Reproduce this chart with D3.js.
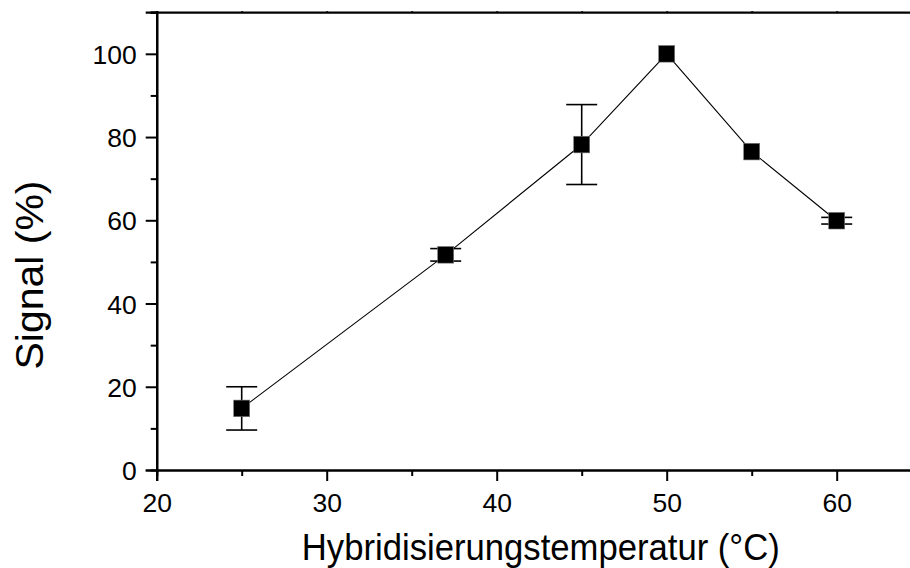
<!DOCTYPE html>
<html>
<head>
<meta charset="utf-8">
<script src="https://cdn.jsdelivr.net/npm/d3@7/dist/d3.min.js"></script>
<style>
  html, body { margin: 0; padding: 0; background: #fff; }
  svg { display: block; }
  text { font-family: "Liberation Sans", Arial, sans-serif; fill: #000; }
</style>
</head>
<body>
<svg id="chart" width="910" height="568"></svg>
<script>
// Hybridization temperature (°C) vs. relative signal (%)
const temperatures = [25, 37, 45, 50, 55, 60];
const signalPct    = [14.8, 51.7, 78.2, 100, 76.5, 59.9];
const signalErr    = [5.2, 1.5, 9.6, null, null, 0.8];

const xMajorTicks = [20, 30, 40, 50, 60];
const xMinorTicks = [25, 35, 45, 55, 65];
const yMajorTicks = [0, 20, 40, 60, 80, 100];
const yMinorTicks = [10, 30, 50, 70, 90, 110];

const xTitle = "Hybridisierungstemperatur (°C)";
const yTitle = "Signal (%)";

const svg = d3.select("#chart");

const plotLeft = 156.7, plotBottom = 470, plotTop = 12.2;
const x = d3.scaleLinear().domain([20, 65]).range([plotLeft, plotLeft + 45 * 17]);
const y = d3.scaleLinear().domain([0, 110]).range([plotBottom, plotTop]);

const frame = svg.append("g");

// bottom axis
const xAxis = frame.append("g").attr("transform", `translate(0,${plotBottom})`)
  .call(d3.axisBottom(x).tickValues(xMajorTicks).tickSize(11).tickPadding(8).tickFormat(d3.format("d")));
frame.append("g").attr("transform", `translate(0,${plotBottom})`)
  .call(d3.axisBottom(x).tickValues(xMinorTicks).tickSize(6).tickFormat(""));

// left axis
const yAxis = frame.append("g").attr("transform", `translate(${plotLeft},0)`)
  .call(d3.axisLeft(y).tickValues(yMajorTicks).tickSize(11).tickPadding(8).tickFormat(d3.format("d")));
frame.append("g").attr("transform", `translate(${plotLeft},0)`)
  .call(d3.axisLeft(y).tickValues(yMinorTicks).tickSize(6).tickFormat(""));

// top axis (mirror, no labels)
frame.append("g").attr("transform", `translate(0,${y(110)})`)
  .call(d3.axisTop(x).tickValues(xMajorTicks.concat(xMinorTicks)).tickSize(1).tickFormat(""));

frame.selectAll(".domain").attr("stroke", "#000").attr("stroke-width", 2.2);
frame.selectAll(".tick line").attr("stroke", "#000").attr("stroke-width", 2);
frame.selectAll(".tick text").attr("font-size", 26.5)
  .attr("font-family", "'Liberation Sans', Arial, sans-serif").attr("fill", "#000");
yAxis.selectAll(".tick text").attr("x", -20).attr("dy", "0.36em");
xAxis.selectAll(".tick text").attr("dy", "0.86em");

// data
const pts = temperatures.map((t, i) => ({ t, v: signalPct[i], e: signalErr[i] }));

// connecting line
svg.append("path")
  .datum(pts)
  .attr("fill", "none")
  .attr("stroke", "#000")
  .attr("stroke-width", 1.1)
  .attr("d", d3.line().x(d => x(d.t)).y(d => y(d.v)));

// error bars
const capHalf = 15.5;
const eb = svg.append("g").attr("stroke", "#000").attr("stroke-width", 1.6);
pts.filter(d => d.e != null).forEach(d => {
  const cx = x(d.t);
  eb.append("line").attr("x1", cx).attr("x2", cx).attr("y1", y(d.v + d.e)).attr("y2", y(d.v - d.e));
  eb.append("line").attr("x1", cx - capHalf).attr("x2", cx + capHalf).attr("y1", y(d.v + d.e)).attr("y2", y(d.v + d.e));
  eb.append("line").attr("x1", cx - capHalf).attr("x2", cx + capHalf).attr("y1", y(d.v - d.e)).attr("y2", y(d.v - d.e));
});

// square markers
const mw = 16, mh = 16.6;
svg.append("g").selectAll("rect")
  .data(pts)
  .join("rect")
  .attr("x", d => x(d.t) - mw / 2)
  .attr("y", d => y(d.v) - mh / 2)
  .attr("width", mw)
  .attr("height", mh)
  .attr("fill", "#000")
  .attr("stroke", "#777")
  .attr("stroke-width", 0.6);

// axis titles
svg.append("text")
  .attr("x", 540.8).attr("y", 560)
  .attr("text-anchor", "middle")
  .attr("font-size", 37)
  .attr("textLength", 478)
  .attr("lengthAdjust", "spacingAndGlyphs")
  .text(xTitle);

svg.append("text")
  .attr("transform", "translate(43,275) rotate(-90)")
  .attr("text-anchor", "middle")
  .attr("font-size", 39)
  .attr("textLength", 189)
  .attr("lengthAdjust", "spacingAndGlyphs")
  .text(yTitle);
</script>
</body>
</html>
